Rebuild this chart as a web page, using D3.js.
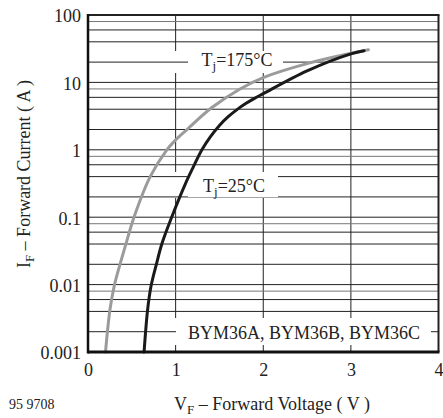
<!DOCTYPE html>
<html>
<head>
<meta charset="utf-8">
<script src="https://cdn.jsdelivr.net/npm/d3@7"></script>
<style>
  body { margin: 0; background: #fff; }
  text { font-family: "Liberation Serif", "Times New Roman", serif; fill: #222; }
</style>
</head>
<body>
<script>
// curve readings (V, A)
var hotV = [0.20, 0.25, 0.30, 0.37, 0.43, 0.525, 0.71, 0.90, 1.0, 1.13, 1.41, 1.735, 2.0, 2.5, 3.0, 3.2];
var hotI = [0.001, 0.0042, 0.0096, 0.021, 0.039, 0.10, 0.40, 1.0, 1.4, 2.0, 4.2, 8.0, 11.8, 19, 27, 30.5];
var coldV = [0.64, 0.68, 0.72, 0.78, 0.845, 0.955, 1.11, 1.20, 1.30, 1.40, 1.50, 1.60, 1.70, 1.80, 1.90, 2.0, 2.5, 3.0, 3.15];
var coldI = [0.001, 0.0042, 0.0096, 0.020, 0.041, 0.10, 0.31, 0.55, 1.0, 1.58, 2.3, 3.1, 3.95, 4.85, 5.8, 6.8, 14.8, 26.5, 29.5];

var xTicks = [0, 1, 2, 3, 4];
var yTicks = [100, 10, 1, 0.1, 0.01, 0.001];
var yTickLabels = ['100', '10', '1', '0.1', '0.01', '0.001'];
var decades = [0.001, 0.01, 0.1, 1, 10];
var minorSteps = [1, 2, 4, 6, 8];

var svg = d3.select('body').append('svg')
  .attr('width', 443)
  .attr('height', 418);

var x = d3.scaleLinear().domain([0, 4]).range([88, 438.5]);
var y = d3.scaleLog().domain([0.001, 100]).range([352, 15]);

// vertical grid
svg.selectAll('line.vgrid')
  .data([1, 2, 3])
  .enter().append('line')
  .attr('class', 'vgrid')
  .attr('x1', d => x(d)).attr('x2', d => x(d))
  .attr('y1', y(100)).attr('y2', y(0.001))
  .attr('stroke', '#222').attr('stroke-width', 1);

// boxes behind the labels hide the vertical lines
var boxes = [
  { x0: 168, x1: 292, y0: 51, y1: 73 },
  { x0: 168, x1: 290, y0: 172, y1: 198 },
  { x0: 170, x1: 437, y0: 318, y1: 345 }
];
svg.selectAll('rect.bigbox')
  .data(boxes)
  .enter().append('rect')
  .attr('x', d => d.x0).attr('y', d => d.y0)
  .attr('width', d => d.x1 - d.x0).attr('height', d => d.y1 - d.y0)
  .attr('fill', '#fff');

// horizontal grid, 1-2-4-6-8 per decade
var hLines = [];
decades.forEach(function (dec) {
  minorSteps.forEach(function (m) { hLines.push(dec * m); });
});
hLines.push(100);
svg.selectAll('line.hgrid')
  .data(hLines)
  .enter().append('line')
  .attr('class', 'hgrid')
  .attr('x1', x(0)).attr('x2', x(4))
  .attr('y1', d => y(d)).attr('y2', d => y(d))
  .attr('stroke', function (d, i) { return i % 5 == 4 ? '#777' : '#222'; })
  .attr('stroke-width', 1);

// small boxes hide the horizontal lines round the text
var small = [
  { x0: 188, x1: 283, y0: 52, y1: 72 },
  { x0: 188, x1: 278, y0: 173, y1: 197 },
  { x0: 176, x1: 431, y0: 320, y1: 344 }
];
svg.selectAll('rect.smallbox')
  .data(small)
  .enter().append('rect')
  .attr('x', d => d.x0).attr('y', d => d.y0)
  .attr('width', d => d.x1 - d.x0).attr('height', d => d.y1 - d.y0)
  .attr('fill', '#fff');

function tjLabel(px, py, temp) {
  var t = svg.append('text').attr('x', px).attr('y', py).attr('font-size', 18);
  t.append('tspan').text('T');
  t.append('tspan').attr('font-size', 13).attr('dy', 4).text('j');
  t.append('tspan').attr('dy', -4).text('=' + temp + '°C');
}
tjLabel(201.5, 66, 175);
tjLabel(203, 191.5, 25);

svg.append('text')
  .attr('x', 188).attr('y', 338.5)
  .attr('font-size', 18)
  .text('BYM36A, BYM36B, BYM36C');

// curves
var line = d3.line()
  .x(d => x(d[0]))
  .y(d => y(d[1]))
  .curve(d3.curveCatmullRom.alpha(0.5));

svg.append('path')
  .datum(d3.zip(hotV, hotI))
  .attr('fill', 'none')
  .attr('stroke', '#9b9b9b')
  .attr('stroke-width', 3)
  .attr('stroke-linecap', 'round')
  .attr('d', line);

svg.append('path')
  .datum(d3.zip(coldV, coldI))
  .attr('fill', 'none')
  .attr('stroke', '#1a1a1a')
  .attr('stroke-width', 3)
  .attr('stroke-linecap', 'round')
  .attr('d', line);

// frame
svg.append('line').attr('x1', x(0)).attr('x2', x(4) + 1).attr('y1', y(100)).attr('y2', y(100))
  .attr('stroke', '#222').attr('stroke-width', 2);
svg.append('line').attr('x1', x(4)).attr('x2', x(4)).attr('y1', y(100)).attr('y2', y(0.001))
  .attr('stroke', '#222').attr('stroke-width', 2);
svg.append('line').attr('x1', x(0)).attr('x2', x(0)).attr('y1', y(100) - 1).attr('y2', y(0.001) + 1.5)
  .attr('stroke', '#111').attr('stroke-width', 2.5);
svg.append('line').attr('x1', x(0)).attr('x2', x(4) + 1).attr('y1', y(0.001)).attr('y2', y(0.001))
  .attr('stroke', '#111').attr('stroke-width', 3);

// axes (labels only)
var xAxis = svg.append('g')
  .attr('transform', 'translate(0,' + 359 + ')')
  .call(d3.axisBottom(x).tickValues(xTicks).tickSize(0).tickFormat(d3.format('d')));
xAxis.select('.domain').remove();
xAxis.selectAll('text')
  .attr('font-size', 18)
  .attr('font-family', '"Liberation Serif", serif')
  .attr('fill', '#222')
  .attr('dy', '0.8em');

var yAxis = svg.append('g')
  .attr('transform', 'translate(81,0)')
  .call(d3.axisLeft(y).tickValues(yTicks).tickSize(0)
    .tickFormat(function (d, i) { return yTickLabels[i]; }));
yAxis.select('.domain').remove();
yAxis.selectAll('text')
  .attr('font-size', 18)
  .attr('font-family', '"Liberation Serif", serif')
  .attr('fill', '#222')
  .attr('x', 0)
  .attr('dy', '0.38em');

// titles
var xt = svg.append('text')
  .attr('x', 272).attr('y', 410)
  .attr('text-anchor', 'middle')
  .attr('font-size', 18);
xt.append('tspan').text('V');
xt.append('tspan').attr('font-size', 13).attr('dy', 4).text('F');
xt.append('tspan').attr('dy', -4).text(' – Forward Voltage ( V )');

var yt = svg.append('text')
  .attr('transform', 'translate(30,174) rotate(-90)')
  .attr('text-anchor', 'middle')
  .attr('font-size', 18);
yt.append('tspan').text('I');
yt.append('tspan').attr('font-size', 13).attr('dy', 4).text('F');
yt.append('tspan').attr('dy', -4).text(' – Forward Current ( A )');

svg.append('text')
  .attr('x', 9).attr('y', 409)
  .attr('font-size', 14)
  .text('95 9708');
</script>
</body>
</html>
